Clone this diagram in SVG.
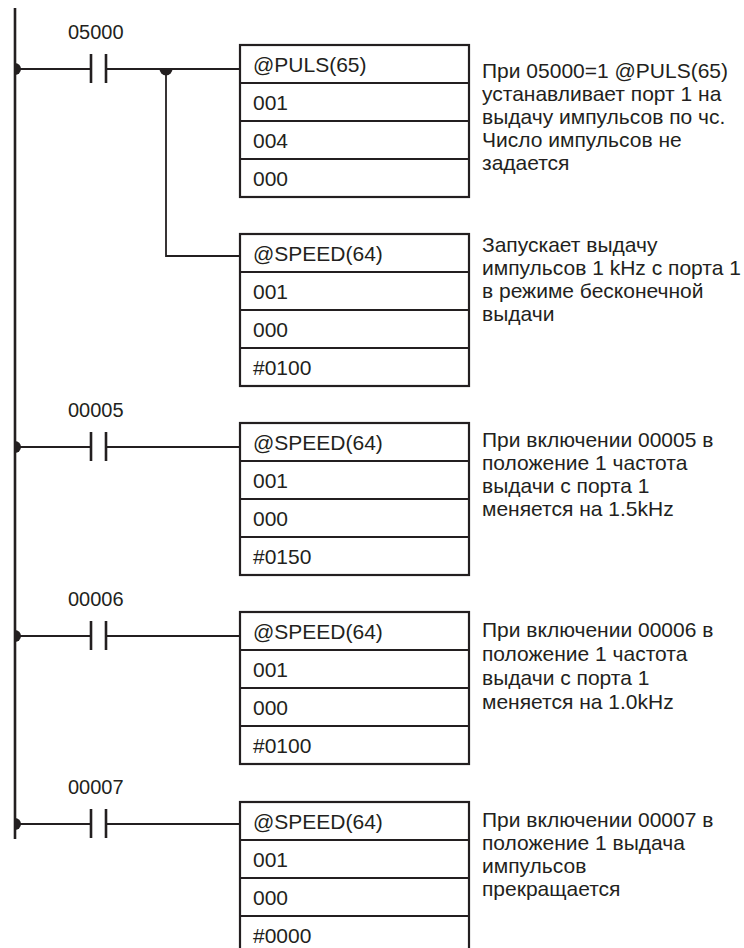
<svg xmlns="http://www.w3.org/2000/svg" width="744" height="948" viewBox="0 0 744 948">
<style>
  .wire{stroke:#231f20;stroke-width:1.8;fill:none}
  .rail{stroke:#231f20;stroke-width:2.6;fill:none}
  .plate{stroke:#231f20;stroke-width:2.6;fill:none}
  .box{stroke:#231f20;stroke-width:2.2;fill:#fff}
  .dot{fill:#231f20}
  text{font-family:"Liberation Sans",Arial,Helvetica,sans-serif;fill:#231f20}
  .lbl{font-size:20px}
  .bt{font-size:21px}
  .cm{font-size:21px}
</style>
<rect width="744" height="948" fill="#fff"/>
<g id="connectors">
  <line class="rail" x1="15" y1="8" x2="15" y2="839"/>
  <!-- rung 1 -->
  <line class="wire" x1="15" y1="69" x2="91" y2="69"/>
  <line class="wire" x1="106" y1="69" x2="240" y2="69"/>
  <polyline class="wire" points="166,69 166,256 240,256"/>
  <path class="dot" d="M15,63 A6,6 0 0 1 15,75 Z"/>
  <path class="dot" d="M159.5,69 A6.5,6.5 0 0 0 172.5,69 Z"/>
  <!-- rung 2 -->
  <line class="wire" x1="15" y1="447" x2="91" y2="447"/>
  <line class="wire" x1="106" y1="447" x2="240" y2="447"/>
  <path class="dot" d="M15,441 A6,6 0 0 1 15,453 Z"/>
  <!-- rung 3 -->
  <line class="wire" x1="15" y1="636" x2="91" y2="636"/>
  <line class="wire" x1="106" y1="636" x2="240" y2="636"/>
  <path class="dot" d="M15,630 A6,6 0 0 1 15,642 Z"/>
  <!-- rung 4 -->
  <line class="wire" x1="15" y1="824" x2="91" y2="824"/>
  <line class="wire" x1="106" y1="824" x2="240" y2="824"/>
  <path class="dot" d="M15,818 A6,6 0 0 1 15,830 Z"/>
</g>
<g id="contact-05000">
  <line class="plate" x1="91" y1="54" x2="91" y2="83"/>
  <line class="plate" x1="106" y1="54" x2="106" y2="83"/>
  <text class="lbl" x="68" y="39">05000</text>
</g>
<g id="contact-00005">
  <line class="plate" x1="91" y1="432" x2="91" y2="461"/>
  <line class="plate" x1="106" y1="432" x2="106" y2="461"/>
  <text class="lbl" x="68" y="416.5">00005</text>
</g>
<g id="contact-00006">
  <line class="plate" x1="91" y1="621" x2="91" y2="650"/>
  <line class="plate" x1="106" y1="621" x2="106" y2="650"/>
  <text class="lbl" x="68" y="605.5">00006</text>
</g>
<g id="contact-00007">
  <line class="plate" x1="91" y1="809" x2="91" y2="838"/>
  <line class="plate" x1="106" y1="809" x2="106" y2="838"/>
  <text class="lbl" x="68" y="794">00007</text>
</g>
<g id="box-puls">
  <rect class="box" x="240" y="45" width="229" height="152"/>
  <line class="box" x1="240" y1="83" x2="469" y2="83"/>
  <line class="box" x1="240" y1="121" x2="469" y2="121"/>
  <line class="box" x1="240" y1="159" x2="469" y2="159"/>
  <text class="bt" x="253" y="72">@PULS(65)</text>
  <text class="bt" x="253" y="110">001</text>
  <text class="bt" x="253" y="148">004</text>
  <text class="bt" x="253" y="186">000</text>
</g>
<g id="box-speed1">
  <rect class="box" x="240" y="234" width="229" height="152"/>
  <line class="box" x1="240" y1="272" x2="469" y2="272"/>
  <line class="box" x1="240" y1="310" x2="469" y2="310"/>
  <line class="box" x1="240" y1="348" x2="469" y2="348"/>
  <text class="bt" x="253" y="261">@SPEED(64)</text>
  <text class="bt" x="253" y="299">001</text>
  <text class="bt" x="253" y="337">000</text>
  <text class="bt" x="253" y="375">#0100</text>
</g>
<g id="box-speed2">
  <rect class="box" x="240" y="423" width="229" height="152"/>
  <line class="box" x1="240" y1="461" x2="469" y2="461"/>
  <line class="box" x1="240" y1="499" x2="469" y2="499"/>
  <line class="box" x1="240" y1="537" x2="469" y2="537"/>
  <text class="bt" x="253" y="450">@SPEED(64)</text>
  <text class="bt" x="253" y="488">001</text>
  <text class="bt" x="253" y="526">000</text>
  <text class="bt" x="253" y="564">#0150</text>
</g>
<g id="box-speed3">
  <rect class="box" x="240" y="612" width="229" height="152"/>
  <line class="box" x1="240" y1="650" x2="469" y2="650"/>
  <line class="box" x1="240" y1="688" x2="469" y2="688"/>
  <line class="box" x1="240" y1="726" x2="469" y2="726"/>
  <text class="bt" x="253" y="639">@SPEED(64)</text>
  <text class="bt" x="253" y="677">001</text>
  <text class="bt" x="253" y="715">000</text>
  <text class="bt" x="253" y="753">#0100</text>
</g>
<g id="box-speed4">
  <rect class="box" x="240" y="802" width="229" height="152"/>
  <line class="box" x1="240" y1="840" x2="469" y2="840"/>
  <line class="box" x1="240" y1="878" x2="469" y2="878"/>
  <line class="box" x1="240" y1="916" x2="469" y2="916"/>
  <text class="bt" x="253" y="829">@SPEED(64)</text>
  <text class="bt" x="253" y="867">001</text>
  <text class="bt" x="253" y="905">000</text>
  <text class="bt" x="253" y="943">#0000</text>
</g>
<g id="comment-1">
  <text class="cm" x="482" y="78">При 05000=1 @PULS(65)</text>
  <text class="cm" x="482" y="101">устанавливает порт 1 на</text>
  <text class="cm" x="482" y="124">выдачу импульсов по чс.</text>
  <text class="cm" x="482" y="147">Число импульсов не</text>
  <text class="cm" x="482" y="170">задается</text>
</g>
<g id="comment-2">
  <text class="cm" x="482" y="252">Запускает выдачу</text>
  <text class="cm" x="482" y="275">импульсов 1 kHz с порта 1</text>
  <text class="cm" x="482" y="298">в режиме бесконечной</text>
  <text class="cm" x="482" y="321">выдачи</text>
</g>
<g id="comment-3">
  <text class="cm" x="482" y="447">При включении 00005 в</text>
  <text class="cm" x="482" y="470">положение 1 частота</text>
  <text class="cm" x="482" y="493">выдачи с порта 1</text>
  <text class="cm" x="482" y="516">меняется на 1.5kHz</text>
</g>
<g id="comment-4">
  <text class="cm" x="482" y="637">При включении 00006 в</text>
  <text class="cm" x="482" y="661">положение 1 частота</text>
  <text class="cm" x="482" y="685">выдачи с порта 1</text>
  <text class="cm" x="482" y="709">меняется на 1.0kHz</text>
</g>
<g id="comment-5">
  <text class="cm" x="482" y="827">При включении 00007 в</text>
  <text class="cm" x="482" y="850">положение 1 выдача</text>
  <text class="cm" x="482" y="873">импульсов</text>
  <text class="cm" x="482" y="896">прекращается</text>
</g>
</svg>
